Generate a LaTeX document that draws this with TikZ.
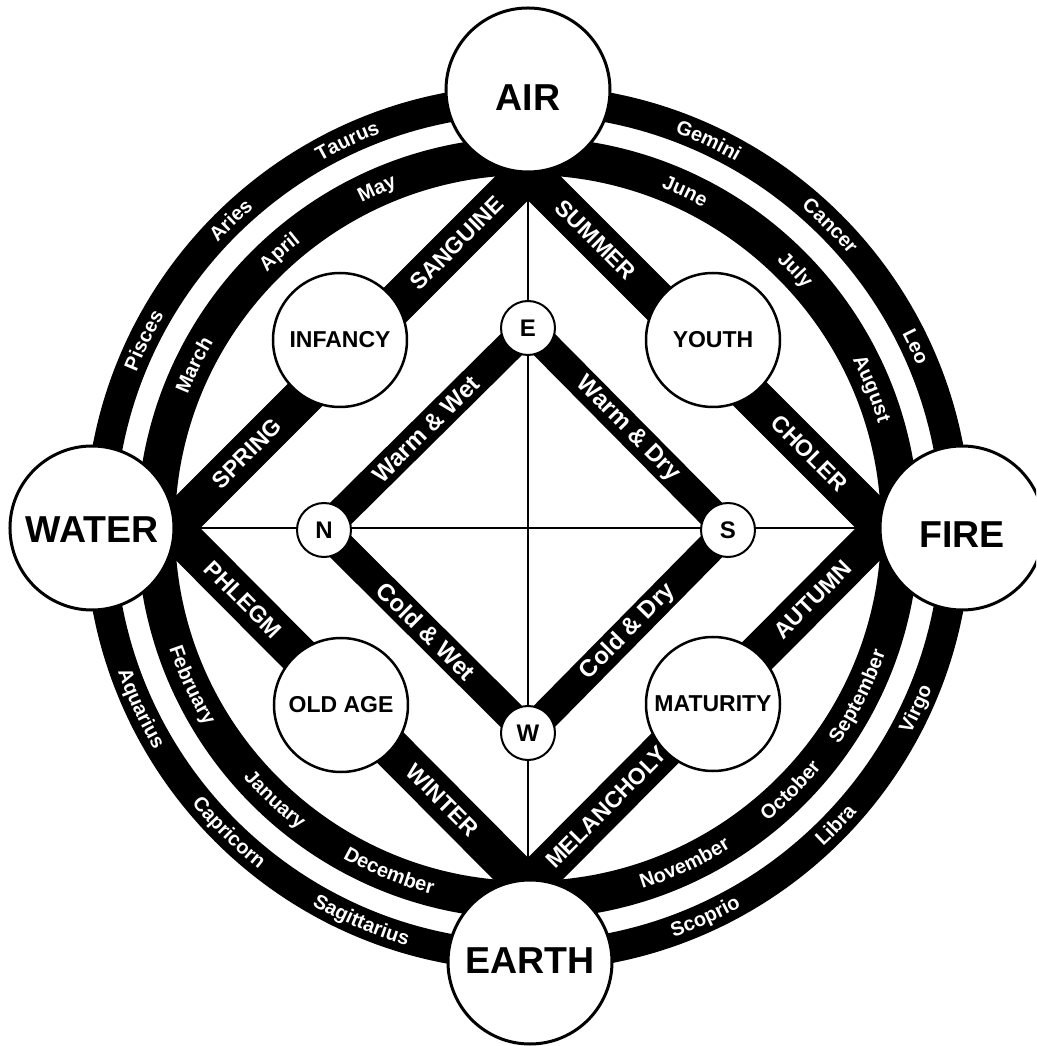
\documentclass[tikz,border=0pt]{standalone}
\usepackage{fontspec}
\setmainfont{Liberation Sans}
\usetikzlibrary{decorations.text,calc}

\newcommand\elfont{\fontsize{37.5}{40}\selectfont\bfseries}
\newcommand\agefont{\fontsize{23}{26}\selectfont\bfseries}
\newcommand\bandfont{\fontsize{23}{26}\selectfont\bfseries}
\newcommand\ringtext{\fontsize{20}{24}\selectfont\bfseries}
\newcommand\qualfont{\fontsize{24}{28}\selectfont\bfseries}
\newcommand\dirfont{\fontsize{24}{26}\selectfont\bfseries}

% word on upper half of a ring (letter tops outward)
\newcommand\upword[3]{\path[decorate,decoration={text along path,text align=center,text color=white,text={|\ringtext|#3}}] (#1+16:#2) arc[start angle=#1+16,end angle=#1-16,radius=#2];}
% word on lower half of a ring (letter tops inward)
\newcommand\lowword[3]{\path[decorate,decoration={text along path,text align=center,text color=white,text={|\ringtext|#3}}] (#1-16:#2) arc[start angle=#1-16,end angle=#1+16,radius=#2];}

\begin{document}
\begin{tikzpicture}[x=1pt,y=1pt,
  elem/.style={circle,draw=black,line width=3pt,fill=white,minimum size=164pt,inner sep=0pt},
  eltext/.style={font=\elfont,inner sep=0pt},
  agec/.style={circle,draw=black,line width=2.5pt,fill=white,minimum size=134pt,inner sep=0pt,font=\agefont},
  dirc/.style={circle,draw=black,line width=2pt,fill=white,minimum size=54pt,inner sep=0pt,font=\dirfont},
  band/.style={draw=black,line width=40pt,line join=miter},
  qband/.style={draw=black,line width=30pt,line join=miter},
  cross/.style={draw=black,line width=2pt},
  blabel/.style={text=white,font=\bandfont,inner sep=0pt,sloped},
  qlabel/.style={text=white,font=\qualfont,inner sep=0pt,sloped},
]
\useasboundingbox (-528,-518) rectangle (508,528);
\clip (-528,-518) rectangle (508,528);
\fill[white] (-528,-518) rectangle (508,528);

\coordinate (O) at (0,0);
% rings
\draw[line width=30pt] (O) circle[radius=428];
\draw[line width=38pt] (O) circle[radius=372];

% zodiac (outer ring)
\upword{25}{421.5}{Leo}
\upword{45}{421.5}{Cancer}
\upword{65}{421.5}{Gemini}
\upword{115}{421.5}{Taurus}
\upword{134}{421.5}{Aries}
\upword{154}{421.5}{Pisces}
\lowword{-25}{434.5}{Virgo}
\lowword{-44}{434.5}{Libra}
\lowword{-65.5}{434.5}{Scoprio}
\lowword{-113}{434.5}{Sagittarius}
\lowword{-134.5}{434.5}{Capricorn}
\lowword{-155}{434.5}{Aquarius}

% months (inner ring)
\upword{22}{365.5}{August}
\upword{44}{365.5}{July}
\upword{65}{365.5}{June}
\upword{114}{365.5}{May}
\upword{132}{365.5}{April}
\upword{154}{365.5}{March}
\lowword{-27}{378.5}{September}
\lowword{-45}{378.5}{October}
\lowword{-65}{378.5}{November}
\lowword{-112}{378.5}{December}
\lowword{-133}{378.5}{January}
\lowword{-155}{378.5}{February}

% outer diamond
\coordinate (vA) at (0,356);
\coordinate (vF) at (356,0);
\coordinate (vE) at (0,-358);
\coordinate (vW) at (-356,0);
\draw[cross] (vW) -- (vF);
\draw[cross] (vA) -- (vE);
\draw[band] (vA) -- (vF) -- (vE) -- (vW) -- cycle;
\path (vW) -- node[blabel,pos=0.21]{SPRING} node[blabel,pos=0.80]{SANGUINE} (vA);
\path (vA) -- node[blabel,pos=0.19]{SUMMER} node[blabel,pos=0.79]{CHOLER} (vF);
\path (vW) -- node[blabel,pos=0.20]{PHLEGM} node[blabel,pos=0.76]{WINTER} (vE);
\path (vE) -- node[blabel,pos=0.22]{MELANCHOLY} node[blabel,pos=0.80]{AUTUMN} (vF);

% inner diamond
\coordinate (cE) at (0,200);
\coordinate (cS) at (200,-2);
\coordinate (cW) at (0,-205);
\coordinate (cN) at (-204,-2);
\draw[qband] (cE) -- (cS) -- (cW) -- (cN) -- cycle;
\path (cN) -- node[qlabel]{Warm \& Wet} (cE);
\path (cE) -- node[qlabel]{Warm \& Dry} (cS);
\path (cN) -- node[qlabel]{Cold \& Wet} (cW);
\path (cW) -- node[qlabel]{Cold \& Dry} (cS);

\node[dirc] (E) at (cE) {E};
\node[dirc] (S) at (cS) {S};
\node[dirc] (W) at (cW) {W};
\node[dirc] (N) at (cN) {N};

% ages
\node[agec] (infancy) at (-188,188) {INFANCY};
\node[agec] (youth) at (185,188) {YOUTH};
\node[agec] (oldage) at (-187,-177) {OLD AGE};
\node[agec] (maturity) at (185,-176) {MATURITY};

% elements
\node[elem] (air) at (0,438) {};
\node[elem] (fire) at (434,0) {};
\node[elem] (earth) at (2,-434) {};
\node[elem] (water) at (-436,0) {};
\node[eltext] (airt) at ([yshift=-8pt]air.center) {AIR};
\node[eltext] (firet) at ([yshift=-7pt]fire.center) {FIRE};
\node[eltext] (eartht) at ([yshift=1pt]earth.center) {EARTH};
\node[eltext] (watert) at ([yshift=-2pt]water.center) {WATER};
\end{tikzpicture}
\end{document}
